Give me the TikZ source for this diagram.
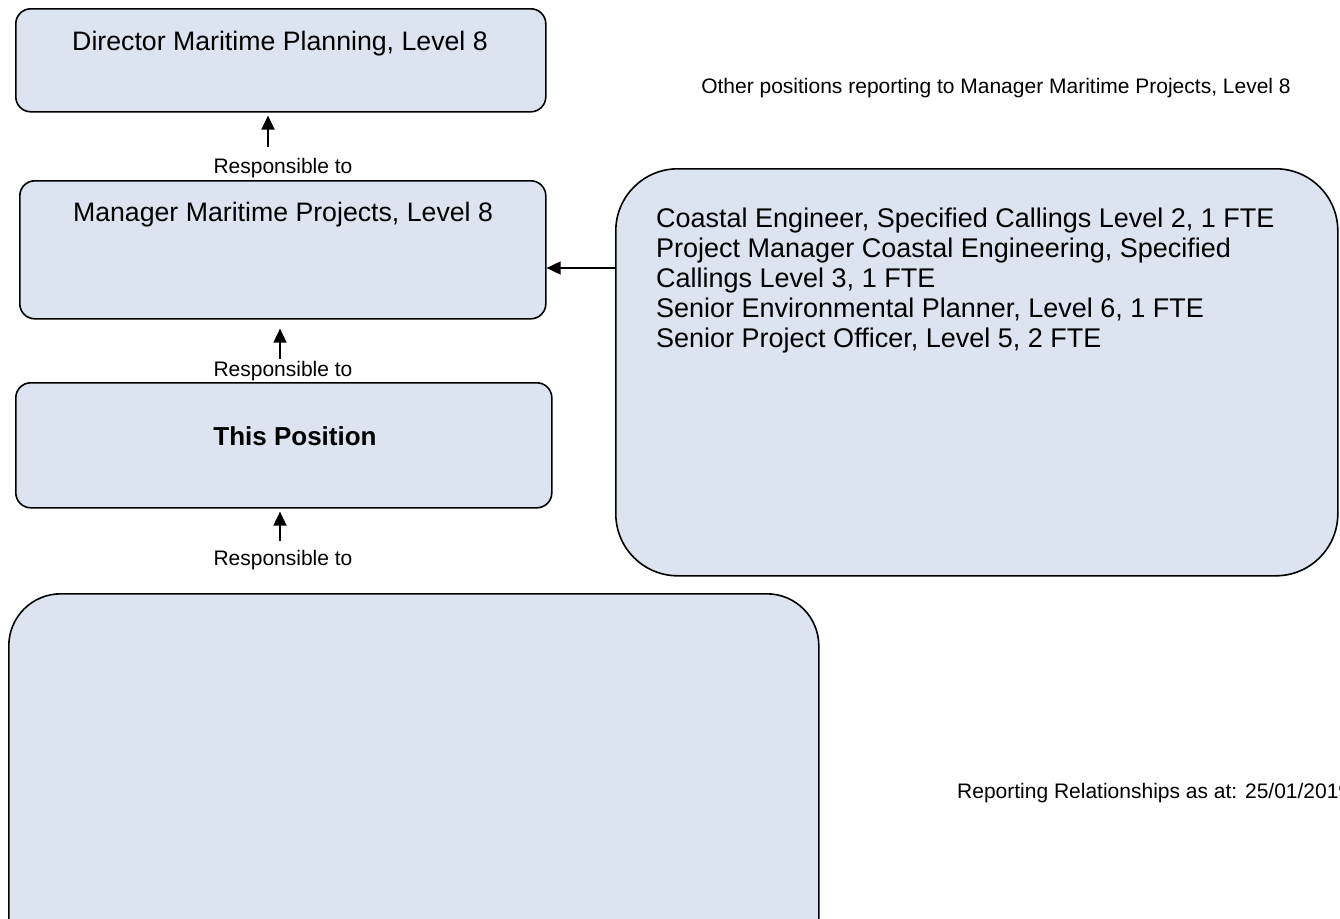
\documentclass[tikz,border=0pt]{standalone}
\usepackage{fontspec}
\setmainfont{Liberation Sans}
\usetikzlibrary{arrows.meta}
\definecolor{boxfill}{HTML}{DBE4F0}
\begin{document}
\begin{tikzpicture}[x=1pt,y=-1pt,
 box/.style={draw=black, line width=1.6pt, fill=boxfill, rounded corners=15pt, anchor=north west, inner sep=0pt},
 title/.style={anchor=base, inner sep=0pt, font=\fontsize{26.7}{30}\selectfont},
 small/.style={anchor=base, inner sep=0pt, font=\fontsize{21}{24}\selectfont},
 conn/.style={line width=1.8pt, -{Triangle[length=14pt,width=13pt]}}]
\useasboundingbox (0,0) rectangle (1340,918);
\clip (0,0) rectangle (1340,918);
% boxes
\node[box, minimum width=530pt, minimum height=103pt] (dir) at (15,8) {};
\node[box, minimum width=526pt, minimum height=138pt] (mgr) at (19,180) {};
\node[box, minimum width=536pt, minimum height=125pt] (pos) at (15,382) {};
\node[box, minimum width=810pt, minimum height=380pt, rounded corners=52pt] (sub) at (8,593) {};
\node[box, minimum width=722pt, minimum height=407pt, rounded corners=62pt] (other) at (615,168) {};
% titles
\node[title] (dirt) at (280,50) {Director Maritime Planning, Level 8};
\node[title] (mgrt) at (283,221) {Manager Maritime Projects, Level 8};
\node[title, font=\fontsize{26}{30}\selectfont\bfseries] (post) at (295,445) {This Position};
\node[anchor=base west, inner sep=0pt, align=left, font=\fontsize{27}{30}\selectfont] (othert) at (656,347)
 {Coastal Engineer, Specified Callings Level 2, 1 FTE\\
  Project Manager Coastal Engineering, Specified\\
  Callings Level 3, 1 FTE\\
  Senior Environmental Planner, Level 6, 1 FTE\\
  Senior Project Officer, Level 5, 2 FTE};
\node[small] (othlbl) at (996,93) {Other positions reporting to Manager Maritime Projects, Level 8};
\node[small, anchor=base west] (rep) at (957,798) {Reporting Relationships as at: 25/01/2019};
% connectors
\coordinate (a1) at (268,147);
\coordinate (a2) at (280,359);
\coordinate (a3) at (280,541);
\draw[conn, shorten >=3pt] (a1) -- (a1 |- dir.south);
\draw[conn, shorten >=9pt] (a2) -- (a2 |- mgr.south);
\draw[conn, shorten >=3pt] (a3) -- (a3 |- pos.south);
\node[small] (r1) at (283,173) {Responsible to};
\node[small] (r2) at (283,376) {Responsible to};
\node[small] (r3) at (283,565) {Responsible to};
\coordinate (h) at (0,268);
\draw[conn] (h -| other.west) -- (h -| mgr.east);
\end{tikzpicture}
\end{document}
